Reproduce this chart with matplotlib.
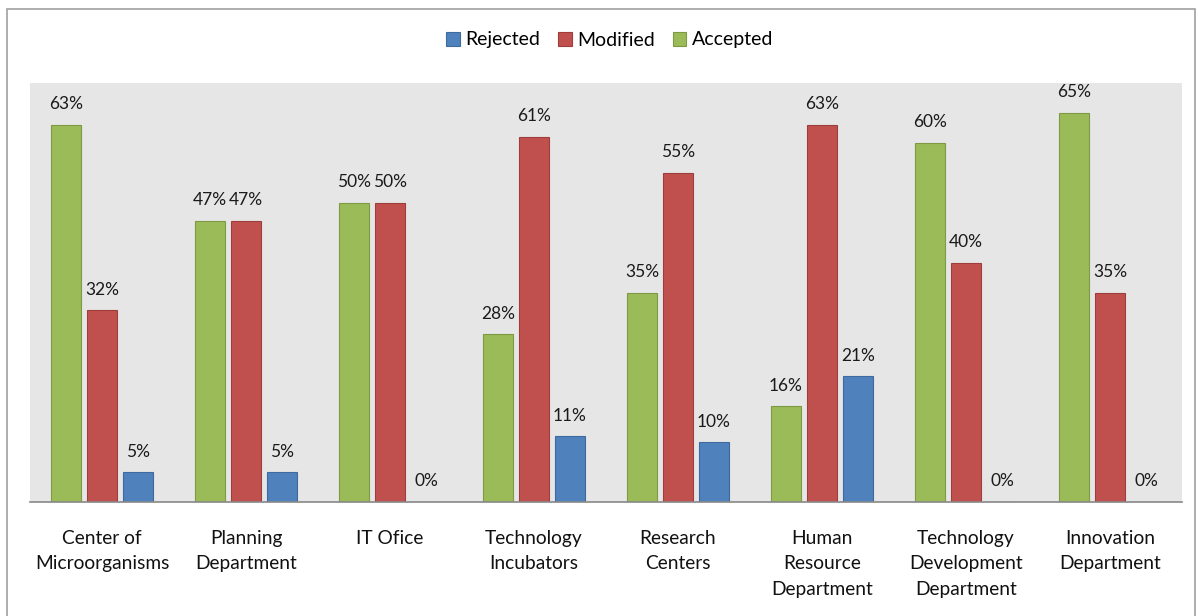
import numpy as np
import matplotlib
matplotlib.use("Agg")
import matplotlib.pyplot as plt
from matplotlib.patches import Rectangle

categories = ["Center of\nMicroorganisms", "Planning\nDepartment", "IT Ofice",
              "Technology\nIncubators", "Research\nCenters",
              "Human\nResource\nDepartment", "Technology\nDevelopment\nDepartment",
              "Innovation\nDepartment"]
accepted = [63, 47, 50, 28, 35, 16, 60, 65]
modified = [32, 47, 50, 61, 55, 63, 40, 35]
rejected = [5, 5, 0, 11, 10, 21, 0, 0]

plt.rcParams["font.family"] = ["Lato", "DejaVu Sans"]

fig = plt.figure(figsize=(11.98, 6.16), dpi=100)
ax = fig.add_axes([30 / 1198, 1 - 502 / 616, 1152 / 1198, (502 - 83) / 616])
ax.set_facecolor("#E6E6E6")

x = np.arange(len(categories))
w = 0.208
step = 0.25
series = [("Accepted", accepted, "#9BBB59", "#7E9A45", -step),
          ("Modified", modified, "#C0504D", "#9E3E3B", 0),
          ("Rejected", rejected, "#4F81BD", "#3E6A9E", step)]
handles = {}
for name, vals, col, edge, off in series:
    bars = ax.bar(x + off, vals, width=w, color=col, edgecolor=edge, linewidth=0.8, label=name)
    handles[name] = bars
    for xi, v in zip(x, vals):
        ax.annotate(f"{v}%", (xi + off, v), xytext=(0, 9), textcoords="offset points",
                    ha="center", va="bottom", fontsize=12.5, color="#1a1a1a")

ax.set_xlim(-0.5, len(categories) - 0.5)
ax.set_ylim(0, 70)
ax.set_yticks([])
ax.set_xticks(x)
ax.set_xticklabels(categories, fontsize=13.8, linespacing=1.62, color="#111111")
ax.tick_params(axis="x", length=0, pad=20)
for s in ["top", "right", "left"]:
    ax.spines[s].set_visible(False)
ax.spines["bottom"].set_color("#888888")
ax.spines["bottom"].set_linewidth(1.2)

fig.legend([handles["Rejected"], handles["Modified"], handles["Accepted"]],
           ["Rejected", "Modified", "Accepted"], loc="center", bbox_to_anchor=(0.509, 1 - 40 / 616),
           ncol=3, frameon=False, fontsize=14, handlelength=0.7, handleheight=0.7,
           handletextpad=0.3, columnspacing=0.9)

fig.patches.append(Rectangle((7 / 1198, -0.01), (1195 - 7) / 1198, 1 - 9 / 616 + 0.01,
                             transform=fig.transFigure, fill=False, edgecolor="#A0A0A0",
                             linewidth=1.2))

fig.savefig("out.png", dpi=100)
